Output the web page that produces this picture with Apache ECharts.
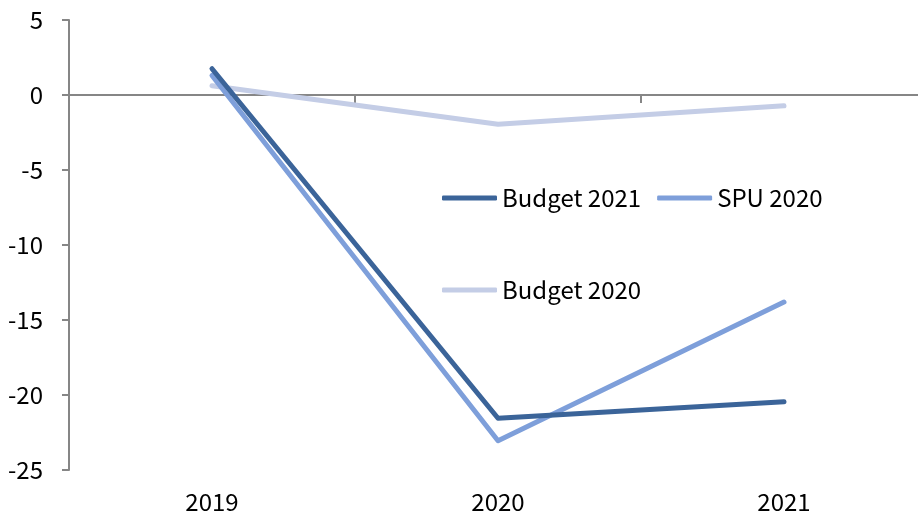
<!DOCTYPE html>
<html>
<head>
<meta charset="utf-8">
<script src="https://cdn.jsdelivr.net/npm/echarts@6/dist/echarts.min.js"></script>
<style>
  html, body { margin: 0; padding: 0; background: #ffffff; overflow: hidden; width: 918px; height: 520px; }
  /* the plot area runs a little past the right edge of the page */
  #chart { width: 927px; height: 520px; }
</style>
</head>
<body>
<div id="chart"></div>
<script>
// Years on the horizontal axis
const years = ['2019', '2020', '2021'];

// Forecast series (percent change)
const budget2021 = [1.75, -21.55, -20.45];
const spu2020 = [1.3, -23.05, -13.8];
const budget2020 = [0.62, -1.95, -0.72];

const FONT = '"Noto Sans CJK SC", "Noto Sans", sans-serif';
const AXIS_GREY = '#868686';
const COLORS = { b21: '#3b6499', spu: '#7e9fda', b20: '#c4cde6' };

const chart = echarts.init(document.getElementById('chart'));

const legendText = { fontFamily: FONT, fontSize: 24, color: '#000' };

chart.setOption({
  animation: false,
  backgroundColor: '#ffffff',
  grid: { left: 69, right: 0, top: 20, bottom: 50, containLabel: false },
  legend: [
    {
      data: ['Budget 2021', 'SPU 2020'],
      left: 437, top: 181,
      itemWidth: 55, itemHeight: 5, itemGap: 16,
      icon: 'roundRect',
      textStyle: legendText
    },
    {
      data: ['Budget 2020'],
      left: 437, top: 273,
      itemWidth: 55, itemHeight: 5,
      icon: 'roundRect',
      textStyle: legendText
    }
  ],
  xAxis: [
    {
      type: 'category',
      data: years,
      boundaryGap: true,
      axisLine: { show: false, onZero: false },
      axisTick: { show: false },
      axisLabel: { fontFamily: FONT, fontSize: 24, color: '#000', margin: 20 }
    },
    {
      // zero line with ticks between the years
      type: 'category',
      data: years,
      position: 'bottom',
      boundaryGap: true,
      axisLine: { show: true, onZero: true, lineStyle: { color: AXIS_GREY, width: 2 } },
      axisTick: { show: true, length: 8, lineStyle: { color: AXIS_GREY, width: 2 } },
      axisLabel: { show: false }
    }
  ],
  yAxis: {
    type: 'value',
    min: -25, max: 5, interval: 5,
    axisLine: { show: true, lineStyle: { color: AXIS_GREY, width: 2 } },
    axisTick: { show: true, length: 7, lineStyle: { color: AXIS_GREY, width: 2 } },
    splitLine: { show: false },
    axisLabel: { fontFamily: FONT, fontSize: 24, color: '#000', margin: 26 }
  },
  series: [
    {
      name: 'Budget 2020', type: 'line', data: budget2020, xAxisIndex: 0,
      symbol: 'none', color: COLORS.b20, z: 2,
      lineStyle: { width: 5, color: COLORS.b20, cap: 'round', join: 'round' }
    },
    {
      name: 'SPU 2020', type: 'line', data: spu2020, xAxisIndex: 0,
      symbol: 'none', color: COLORS.spu, z: 3,
      lineStyle: { width: 5, color: COLORS.spu, cap: 'round', join: 'round' }
    },
    {
      name: 'Budget 2021', type: 'line', data: budget2021, xAxisIndex: 0,
      symbol: 'none', color: COLORS.b21, z: 4,
      lineStyle: { width: 5, color: COLORS.b21, cap: 'round', join: 'round' }
    }
  ]
});
</script>
</body>
</html>
